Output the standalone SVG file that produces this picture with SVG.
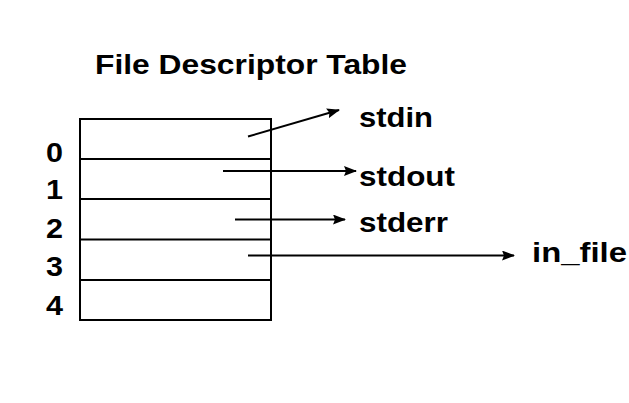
<svg xmlns="http://www.w3.org/2000/svg" width="629" height="403" viewBox="0 0 629 403">
<style>
text{font-family:"Liberation Sans",Arial,sans-serif;font-weight:bold;fill:#000}
.t{font-size:28px}
.d{font-size:28px}
.c{stroke:#000;stroke-width:2;fill:none}
.g{stroke:#000;stroke-width:2;fill:none}
</style>
<defs>
<marker id="ah" markerWidth="13" markerHeight="10" refX="12" refY="5" orient="auto" markerUnits="userSpaceOnUse">
<path d="M0,0 L13,5 L0,10 L2,5 Z" fill="#000"/>
</marker>
</defs>
<rect width="629" height="403" fill="#fff"/>
<g id="title"><text x="95" y="74" font-size="27" textLength="312" lengthAdjust="spacingAndGlyphs">File Descriptor Table</text></g>
<g id="table">
<rect class="g" x="80" y="119" width="191" height="201"/>
<line class="g" x1="80" y1="159" x2="271" y2="159"/>
<line class="g" x1="80" y1="199" x2="271" y2="199"/>
<line class="g" x1="80" y1="239.5" x2="271" y2="239.5"/>
<line class="g" x1="80" y1="280" x2="271" y2="280"/>
</g>
<g id="indices">
<text class="d" x="46" y="162" textLength="17" lengthAdjust="spacingAndGlyphs">0</text>
<text class="d" x="46" y="199" textLength="17" lengthAdjust="spacingAndGlyphs">1</text>
<text class="d" x="46" y="238" textLength="17" lengthAdjust="spacingAndGlyphs">2</text>
<text class="d" x="46" y="276" textLength="17" lengthAdjust="spacingAndGlyphs">3</text>
<text class="d" x="46" y="315" textLength="17" lengthAdjust="spacingAndGlyphs">4</text>
</g>
<g id="stdin"><text class="t" x="359" y="127" textLength="74" lengthAdjust="spacingAndGlyphs">stdin</text></g>
<g id="stdout"><text class="t" x="359" y="186" textLength="96" lengthAdjust="spacingAndGlyphs">stdout</text></g>
<g id="stderr"><text class="t" x="359" y="232" textLength="89" lengthAdjust="spacingAndGlyphs">stderr</text></g>
<g id="in_file"><text class="t" x="532" y="262" textLength="95" lengthAdjust="spacingAndGlyphs">in_file</text></g>
<g id="connectors">
<line class="c" x1="248" y1="136.5" x2="339" y2="110" marker-end="url(#ah)"/>
<line class="c" x1="223" y1="171" x2="356" y2="171" marker-end="url(#ah)"/>
<line class="c" x1="235" y1="219.5" x2="345" y2="219.5" marker-end="url(#ah)"/>
<line class="c" x1="248" y1="255.5" x2="514" y2="255.5" marker-end="url(#ah)"/>
</g>
</svg>
